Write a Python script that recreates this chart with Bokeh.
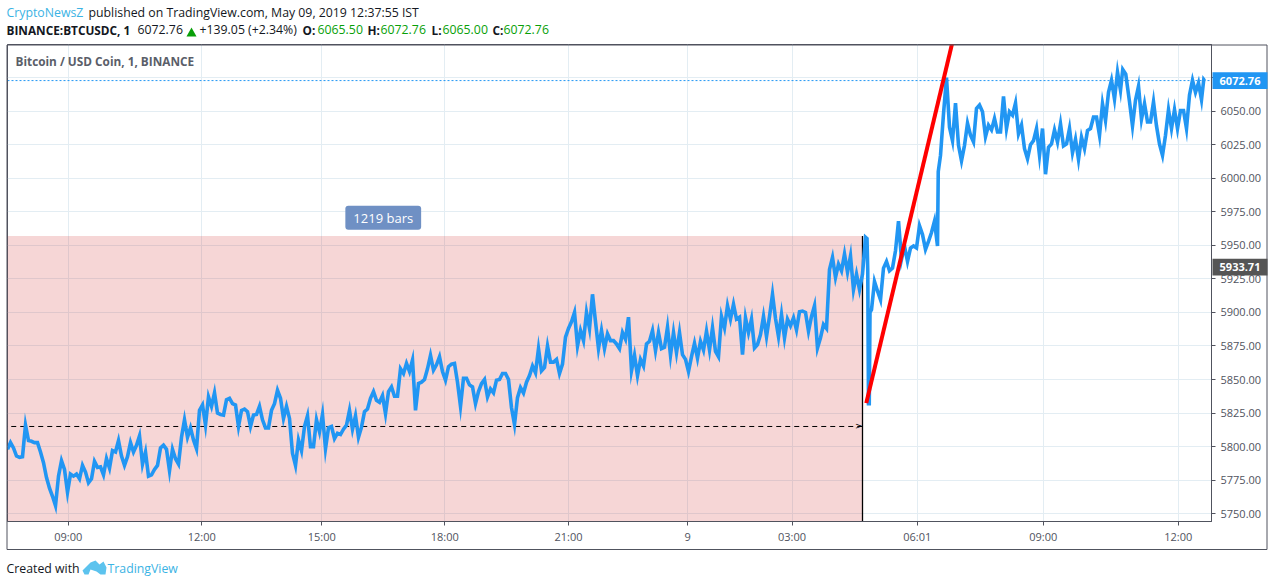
import numpy as np
from bokeh.plotting import figure
from bokeh.embed import file_html
from bokeh.resources import INLINE
from bokeh.core.properties import value
from bokeh.models import Label, FixedTicker, Range1d

sampled_prices = [
 5798,5803,5799,5793,5792,5792.5,5816,5804.5,5804,5803,5803,5796,5788,5777,5769,5763,5756,5778,5789.5,5783,5766,5779.5,5778,5779.5,5776,5786,5781,5773,5776,5789,5784.5,5785,5779,5791,5784,5797,5796,5804.5,5793,5786,5792.5,5803,5796,5801,5808,5787,5796,5778,5779,5783,5786,5799,5801,5798,5782,5798,5791,
 5787,5807,5820,5807,5814,5805,5798.5,5827,5831,5816,5837,5830,5840,5825,5824,5823.5,5835,5836,5832,5831,5815,5827,5828,5826,5815,5823.5,5824,5830,5820,5814,5814,5827,5832,5842,5836,5821,5830,5821,5795,5786,5805,5797,5815,5823,5800,5800,5820,5811,5824,5798.5,5814,5815,5806,5810,5809,
 5813,5816,5827,5813,5823,5807,5814.5,5826,5828,5836,5841,5834.5,5833,5838,5824.5,5841,5844.5,5837.5,5837.5,5858,5854.5,5862,5856,5864.5,5827,5847,5848,5850,5858,5868,5857,5861,5867,5856,5849.5,5859.5,5861.5,5862,5848,5830,5851,5851,5846,5844.5,5832,5841,5847,5850,5837,5843,5840,5849.5,5850,5854.5,5854.5,
 5850,5829,5816.5,5836.5,5844,5840,5848,5853,5860,5855,5873,5856.5,5859,5875,5863,5863,5865,5854.5,5861.5,5881.5,5888,5893,5900,5875,5886.5,5879,5900,5888,5913.5,5893,5873,5886.5,5873,5884,5879,5879,5876.5,5873,5885,5880,5896.5,5856.5,5868,5853,5865,5860,5876.5,5878.5,5886.5,5871.5,5885,5873,5874,5889,5868,
 5885,5870,5885,5868.5,5865,5856,5867,5877,5866,5878.5,5872,5886,5872,5888.5,5871,5867,5897,5888.5,5905,5895,5906,5895,5896.5,5868.5,5896,5885,5895,5873.5,5876,5883.5,5897,5882,5897,5913.5,5895.5,5882,5898.5,5881,5895,5890,5896,5887,5900.5,5901,5900,5886,5897,5905,5873.5,5881,5891,5888,5932,5941,5926,5936,5931,5943.5,5930,5942,5917,5928.5,5917,5928.5,
]
later_bars = [1144,1146,1147,1148,1149,1150,1152,1156,1160,1164,1168,1172,1176,1180,1184,1188,1192,1196,1200,1204,1208,1212,1216,1220,1224,1228,1232,1236,1240,1241,
 1244,1248,1252,1256,1260,1264,1268,1272,1276,1280,1284,1288,1292,1296,1300,1304,1308,1312,1316,1320,1324,1328,1332,1336,1340,1344,1348,1352,1356,1360,1364,
 1368,1372,1376,1380,1384,1388,1392,1396,1400,1404,1408,1412,1416,1420,1424,1428,1432,1436,1440,1444,1448,1452,1456,1460,1464,1468,1472,1476,1480,1484,1487,1491,1496,1500,1504,1508,1512,1516,1520,1524,1528,1532,1536,1540,1544,1548,1552,1556,1560,1564,1568,1572,1576,1580,1584,1588,1592,1595,1596]
later_prices = [5956,5955,5931,5832,5832,5900,5902,5923,5916,5909.5,5933,5938,5931,5933,5946,5968,5939.5,5949.5,5938,5948,5949.5,5948,5964.5,5958,5947,5953,5959.5,5968,5949.5,6005,
 6017,6048,6075,6038,6028,6056,6024.5,6013,6024.5,6041,6032,6027,6052,6054.5,6049.5,6031,6039.5,6036,6044.5,6034.5,6034.5,6061,6037,6049.5,6047,6056,6033,6039.5,6022,6014.5,6025,
 6028,6037,6017,6037,6003,6023,6025.5,6036,6027,6040.5,6024,6025.5,6037,6019,6029,6014,6030.5,6022,6035.5,6037,6045.5,6045.5,6032,6055.5,6043,6064,6073,6059,6079,6065.5,6081,6077.5,6057,6039,6058,6068.5,6044,6055.5,6042,6042,6057,6039,6025.5,6017,6032,6051,6037,6051,6037,6050.5,6050.5,6037,6062,6073,6064,6071,6058.5,6073.5,6072.76]

tick_bars = [81,259,419,583,748,907,1046,1213,1381,1561]
tick_labels = ["09:00","12:00","15:00","18:00","21:00","9","03:00","06:01","09:00","12:00"]
price_ticks = [5750,5775,5800,5825,5850,5875,5900,5925,5950,5975,6000,6025,6050,6075]

range_start, range_end = -79, 1140      # 1219 bars
range_top = 5957
range_mid = 5815
trend_bars = [1145,1267]
trend_prices = [5832.4,6118]
last_price = 6072.76
prev_close = 5933.71

bars = np.concatenate([np.arange(0,1141,4), later_bars])
prices = np.array(sampled_prices + later_prices)

FONT = "Open Sans"
GRID = "#e3edf3"
AXIS = "#50535e"
BLUE = "#2196f3"
Y0, Y1 = 5744.2, 6099.65

p = figure(frame_width=1204, frame_height=477, min_border_left=7, min_border_top=44,
           min_border_right=61, min_border_bottom=65,
           x_range=Range1d(0,1605.33), y_range=Range1d(Y0,Y1),
           y_axis_location="right", output_backend="svg", toolbar_location=None,
           background_fill_color="white", border_fill_color=None)
p.outline_line_color = AXIS

p.xaxis.ticker = FixedTicker(ticks=tick_bars)
p.xaxis.major_label_overrides = dict(zip(tick_bars, tick_labels))
p.yaxis.ticker = FixedTicker(ticks=price_ticks)
p.yaxis.major_label_overrides = {t: f"{t:.2f}" for t in price_ticks}
for ax in (p.xaxis[0], p.yaxis[0]):
    ax.axis_line_color = AXIS
    ax.major_tick_line_color = AXIS
    ax.major_tick_out = 4
    ax.major_tick_in = 0
    ax.minor_tick_line_color = None
    ax.major_label_text_color = "#50535e"
    ax.major_label_text_font = FONT
    ax.major_label_text_font_size = "11px"
p.xaxis[0].major_label_standoff = 3
p.yaxis[0].major_label_standoff = 5
p.xgrid.ticker = FixedTicker(ticks=tick_bars)
p.ygrid.ticker = FixedTicker(ticks=price_ticks)
p.xgrid.grid_line_color = GRID
p.ygrid.grid_line_color = GRID

p.quad(left=[range_start], right=[range_end], bottom=[5700], top=[range_top],
       fill_color="#d23232", fill_alpha=0.2, line_color=None)
p.line([range_end,range_end],[5700,range_top], line_color="black", line_width=1.3)
p.line([range_start,range_end],[range_mid,range_mid], line_color="black", line_width=1, line_dash="5 4")
p.text([range_end],[range_mid],text=[">"],text_align="right",text_baseline="middle",
       text_font=value("DejaVu Sans"),text_font_size="9px",text_color="black")
p.line([0,1605.33],[last_price,last_price], line_color=BLUE, line_width=1, line_dash="2 2")
p.line(bars, prices, line_color=BLUE, line_width=3.6, line_join="miter")
p.line(trend_bars, trend_prices, line_color="#ff0000", line_width=4)

p.add_layout(Label(x=501,y=5970.5,x_units="data",y_units="data",text="1219 bars",text_color="white",
                   text_font=FONT,text_font_size="13px",text_align="center",text_baseline="middle",
                   background_fill_color="#6f90c4",padding=(8,3),border_radius=3))

# transparent sheet over the whole page: header, footer, outer frame, price tags
PPU = 477/(Y1-Y0)           # pixels per price unit in the main chart
q = figure(width=1272, height=586, min_border=0, x_axis_type=None, y_axis_type=None,
           x_range=Range1d(0,1272), y_range=Range1d(Y0-65/PPU, Y1+44/PPU),
           output_backend="svg", toolbar_location=None,
           background_fill_color=None, border_fill_color=None)
q.outline_line_color = None
q.grid.visible = False
q.extra_y_ranges = {"page": Range1d(586,0)}
q.styles = {"position":"absolute","left":"0","top":"0"}

def T(x,y,s,color="#131722",size=12.3,bold=False):
    q.text([x],[y],text=[s],y_range_name="page",text_color=color,text_font=value(FONT),
           text_font_size=f"{size}px",text_align="left",text_baseline="middle",
           text_font_style="bold" if bold else "normal")

GREEN="#089f08"
T(6,12,"CryptoNewsZ","#3bb3e4")
T(88,12,"published on TradingView.com, May 09, 2019 12:37:55 IST")
T(6,29,"BINANCE:BTCUSDC, 1",size=11.8,bold=True)
T(137,29,"6072.76")
T(199,29,"+139.05 (+2.34%)")
for x,s in [(302,"O:"),(367,"H:"),(431,"L:"),(492,"C:")]:
    T(x,29,s,size=11.8,bold=True)
for x,s in [(317,"6065.50"),(380,"6072.76"),(442,"6065.00"),(503,"6072.76")]:
    T(x,29,s,GREEN)
q.patch([186,191,196],[36,27,36],y_range_name="page",fill_color=GREEN,line_color=None)
T(15,60,"Bitcoin / USD Coin, 1, BINANCE","#5a5e69",11.8,True)
T(6,568,"Created with")
T(107,568,"TradingView","#3bb3e4")
q.patch([82,90,95,99,103,106,105,100,96,90,88,84],[570,562,560,564,561,567,574,574,571,569,574,574],
        y_range_name="page",fill_color="#5cc3ee",line_color=None)
q.line([6.5,1266.5,1266.5,6.5,6.5],[44.5,44.5,549,549,44.5],y_range_name="page",line_color=AXIS,line_width=1)

for price,col in [(prev_close,"#555555"),(last_price,BLUE)]:
    q.quad(left=[1212],right=[1267],bottom=[price-8.4/PPU],top=[price+8.4/PPU],fill_color=col,line_color=None)
    q.text([1239.5],[price],text=[f"{price:.2f}"],text_color="white",text_font=value(FONT),text_font_size="11px",
           text_font_style="bold",text_align="center",text_baseline="middle")

open("out.html","w").write(file_html([p,q],INLINE))
